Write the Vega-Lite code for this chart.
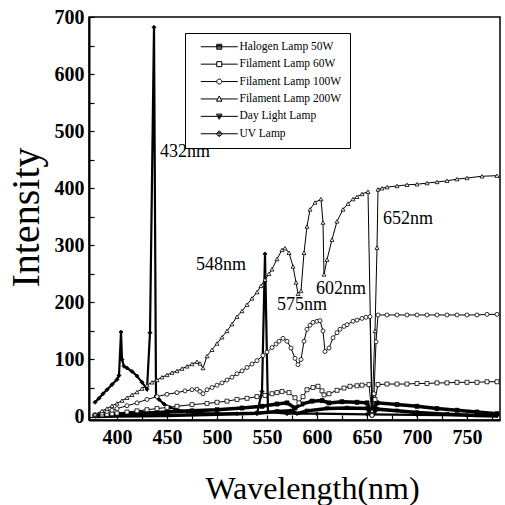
{
  "$schema": "https://vega.github.io/schema/vega-lite/v6.json",
  "autosize": "none",
  "width": 411,
  "height": 403,
  "padding": {"left": 89, "top": 17, "right": 5, "bottom": 85},
  "background": "white",
  "config": {
    "font": "Liberation Serif",
    "view": {"stroke": "black", "strokeWidth": 1.5},
    "axis": {
      "domainColor": "black", "domainWidth": 2, "tickColor": "black", "tickWidth": 1.2,
      "grid": false, "labelFont": "Liberation Serif", "labelFontWeight": "bold", "labelFontSize": 20,
      "labelColor": "black", "titleFont": "Liberation Serif", "titleFontWeight": "normal", "titleColor": "black"
    }
  },
  "datasets": {
    "spectra": [
      {"lamp":"Halogen Lamp 50W","wl":378,"i":2},{"lamp":"Halogen Lamp 50W","wl":400,"i":4},{"lamp":"Halogen Lamp 50W","wl":425,"i":6},{"lamp":"Halogen Lamp 50W","wl":450,"i":8},{"lamp":"Halogen Lamp 50W","wl":475,"i":10},{"lamp":"Halogen Lamp 50W","wl":500,"i":12},{"lamp":"Halogen Lamp 50W","wl":525,"i":15},{"lamp":"Halogen Lamp 50W","wl":545,"i":18},{"lamp":"Halogen Lamp 50W","wl":560,"i":22},{"lamp":"Halogen Lamp 50W","wl":570,"i":24},{"lamp":"Halogen Lamp 50W","wl":578,"i":15},{"lamp":"Halogen Lamp 50W","wl":585,"i":22},{"lamp":"Halogen Lamp 50W","wl":595,"i":27},{"lamp":"Halogen Lamp 50W","wl":605,"i":28},{"lamp":"Halogen Lamp 50W","wl":612,"i":24},{"lamp":"Halogen Lamp 50W","wl":625,"i":26},{"lamp":"Halogen Lamp 50W","wl":640,"i":25},{"lamp":"Halogen Lamp 50W","wl":650,"i":24},{"lamp":"Halogen Lamp 50W","wl":655,"i":5},{"lamp":"Halogen Lamp 50W","wl":660,"i":24},{"lamp":"Halogen Lamp 50W","wl":680,"i":21},{"lamp":"Halogen Lamp 50W","wl":700,"i":18},{"lamp":"Halogen Lamp 50W","wl":720,"i":14},{"lamp":"Halogen Lamp 50W","wl":740,"i":11},{"lamp":"Halogen Lamp 50W","wl":760,"i":8},{"lamp":"Halogen Lamp 50W","wl":780,"i":5},

      {"lamp":"Day Light Lamp","wl":378,"i":0},{"lamp":"Day Light Lamp","wl":400,"i":1},{"lamp":"Day Light Lamp","wl":450,"i":2},{"lamp":"Day Light Lamp","wl":500,"i":4},{"lamp":"Day Light Lamp","wl":540,"i":6},{"lamp":"Day Light Lamp","wl":560,"i":9},{"lamp":"Day Light Lamp","wl":575,"i":10},{"lamp":"Day Light Lamp","wl":580,"i":5},{"lamp":"Day Light Lamp","wl":590,"i":10},{"lamp":"Day Light Lamp","wl":610,"i":14},{"lamp":"Day Light Lamp","wl":630,"i":15},{"lamp":"Day Light Lamp","wl":650,"i":14},{"lamp":"Day Light Lamp","wl":655,"i":2},{"lamp":"Day Light Lamp","wl":660,"i":13},{"lamp":"Day Light Lamp","wl":680,"i":10},{"lamp":"Day Light Lamp","wl":700,"i":7},{"lamp":"Day Light Lamp","wl":730,"i":4},{"lamp":"Day Light Lamp","wl":760,"i":2},{"lamp":"Day Light Lamp","wl":780,"i":1},

      {"lamp":"UV Lamp","wl":378,"i":25},{"lamp":"UV Lamp","wl":382,"i":32},{"lamp":"UV Lamp","wl":386,"i":40},{"lamp":"UV Lamp","wl":390,"i":47},{"lamp":"UV Lamp","wl":395,"i":56},{"lamp":"UV Lamp","wl":400,"i":65},{"lamp":"UV Lamp","wl":402,"i":72},{"lamp":"UV Lamp","wl":404,"i":148},{"lamp":"UV Lamp","wl":405,"i":100},{"lamp":"UV Lamp","wl":407,"i":88},{"lamp":"UV Lamp","wl":410,"i":85},{"lamp":"UV Lamp","wl":415,"i":79},{"lamp":"UV Lamp","wl":420,"i":71},{"lamp":"UV Lamp","wl":425,"i":60},{"lamp":"UV Lamp","wl":430,"i":48},{"lamp":"UV Lamp","wl":433,"i":147},{"lamp":"UV Lamp","wl":437,"i":682},{"lamp":"UV Lamp","wl":439,"i":36},{"lamp":"UV Lamp","wl":442,"i":30},{"lamp":"UV Lamp","wl":447,"i":22},{"lamp":"UV Lamp","wl":453,"i":16},{"lamp":"UV Lamp","wl":460,"i":12},{"lamp":"UV Lamp","wl":470,"i":9},{"lamp":"UV Lamp","wl":485,"i":6},{"lamp":"UV Lamp","wl":500,"i":5},{"lamp":"UV Lamp","wl":520,"i":5},{"lamp":"UV Lamp","wl":540,"i":5},{"lamp":"UV Lamp","wl":545,"i":44},{"lamp":"UV Lamp","wl":548,"i":285},{"lamp":"UV Lamp","wl":551,"i":8},{"lamp":"UV Lamp","wl":570,"i":5},{"lamp":"UV Lamp","wl":600,"i":5},{"lamp":"UV Lamp","wl":650,"i":4},{"lamp":"UV Lamp","wl":700,"i":3},{"lamp":"UV Lamp","wl":750,"i":2},{"lamp":"UV Lamp","wl":780,"i":2},

      {"lamp":"Filament Lamp 60W","wl":378,"i":2},{"lamp":"Filament Lamp 60W","wl":385,"i":3},{"lamp":"Filament Lamp 60W","wl":390,"i":4},{"lamp":"Filament Lamp 60W","wl":395,"i":5},{"lamp":"Filament Lamp 60W","wl":400,"i":6},{"lamp":"Filament Lamp 60W","wl":410,"i":8},{"lamp":"Filament Lamp 60W","wl":420,"i":10},{"lamp":"Filament Lamp 60W","wl":430,"i":12},{"lamp":"Filament Lamp 60W","wl":440,"i":14},{"lamp":"Filament Lamp 60W","wl":450,"i":16},{"lamp":"Filament Lamp 60W","wl":460,"i":18},{"lamp":"Filament Lamp 60W","wl":475,"i":21},{"lamp":"Filament Lamp 60W","wl":490,"i":23},{"lamp":"Filament Lamp 60W","wl":500,"i":25},{"lamp":"Filament Lamp 60W","wl":510,"i":27},{"lamp":"Filament Lamp 60W","wl":520,"i":30},{"lamp":"Filament Lamp 60W","wl":530,"i":32},{"lamp":"Filament Lamp 60W","wl":540,"i":35},{"lamp":"Filament Lamp 60W","wl":548,"i":37},{"lamp":"Filament Lamp 60W","wl":555,"i":40},{"lamp":"Filament Lamp 60W","wl":560,"i":42},{"lamp":"Filament Lamp 60W","wl":565,"i":44},{"lamp":"Filament Lamp 60W","wl":572,"i":42},{"lamp":"Filament Lamp 60W","wl":578,"i":33},{"lamp":"Filament Lamp 60W","wl":582,"i":24},{"lamp":"Filament Lamp 60W","wl":586,"i":35},{"lamp":"Filament Lamp 60W","wl":590,"i":47},{"lamp":"Filament Lamp 60W","wl":596,"i":51},{"lamp":"Filament Lamp 60W","wl":601,"i":53},{"lamp":"Filament Lamp 60W","wl":605,"i":45},{"lamp":"Filament Lamp 60W","wl":607,"i":38},{"lamp":"Filament Lamp 60W","wl":612,"i":40},{"lamp":"Filament Lamp 60W","wl":620,"i":46},{"lamp":"Filament Lamp 60W","wl":627,"i":50},{"lamp":"Filament Lamp 60W","wl":633,"i":53},{"lamp":"Filament Lamp 60W","wl":640,"i":54},{"lamp":"Filament Lamp 60W","wl":645,"i":55},{"lamp":"Filament Lamp 60W","wl":652,"i":56},{"lamp":"Filament Lamp 60W","wl":655,"i":3},{"lamp":"Filament Lamp 60W","wl":658,"i":30},{"lamp":"Filament Lamp 60W","wl":661,"i":56},{"lamp":"Filament Lamp 60W","wl":670,"i":57},{"lamp":"Filament Lamp 60W","wl":680,"i":57},{"lamp":"Filament Lamp 60W","wl":690,"i":57},{"lamp":"Filament Lamp 60W","wl":700,"i":58},{"lamp":"Filament Lamp 60W","wl":710,"i":58},{"lamp":"Filament Lamp 60W","wl":720,"i":59},{"lamp":"Filament Lamp 60W","wl":730,"i":59},{"lamp":"Filament Lamp 60W","wl":740,"i":60},{"lamp":"Filament Lamp 60W","wl":750,"i":60},{"lamp":"Filament Lamp 60W","wl":760,"i":60},{"lamp":"Filament Lamp 60W","wl":770,"i":61},{"lamp":"Filament Lamp 60W","wl":780,"i":61},

      {"lamp":"Filament Lamp 100W","wl":378,"i":3},{"lamp":"Filament Lamp 100W","wl":385,"i":6},{"lamp":"Filament Lamp 100W","wl":390,"i":9},{"lamp":"Filament Lamp 100W","wl":395,"i":11},{"lamp":"Filament Lamp 100W","wl":400,"i":14},{"lamp":"Filament Lamp 100W","wl":410,"i":19},{"lamp":"Filament Lamp 100W","wl":420,"i":24},{"lamp":"Filament Lamp 100W","wl":430,"i":30},{"lamp":"Filament Lamp 100W","wl":440,"i":35},{"lamp":"Filament Lamp 100W","wl":450,"i":39},{"lamp":"Filament Lamp 100W","wl":460,"i":42},{"lamp":"Filament Lamp 100W","wl":468,"i":45},{"lamp":"Filament Lamp 100W","wl":475,"i":47},{"lamp":"Filament Lamp 100W","wl":480,"i":48},{"lamp":"Filament Lamp 100W","wl":483,"i":44},{"lamp":"Filament Lamp 100W","wl":486,"i":40},{"lamp":"Filament Lamp 100W","wl":490,"i":47},{"lamp":"Filament Lamp 100W","wl":495,"i":51},{"lamp":"Filament Lamp 100W","wl":500,"i":55},{"lamp":"Filament Lamp 100W","wl":505,"i":59},{"lamp":"Filament Lamp 100W","wl":510,"i":64},{"lamp":"Filament Lamp 100W","wl":515,"i":69},{"lamp":"Filament Lamp 100W","wl":520,"i":75},{"lamp":"Filament Lamp 100W","wl":525,"i":80},{"lamp":"Filament Lamp 100W","wl":530,"i":86},{"lamp":"Filament Lamp 100W","wl":535,"i":92},{"lamp":"Filament Lamp 100W","wl":540,"i":98},{"lamp":"Filament Lamp 100W","wl":546,"i":107},{"lamp":"Filament Lamp 100W","wl":550,"i":113},{"lamp":"Filament Lamp 100W","wl":555,"i":121},{"lamp":"Filament Lamp 100W","wl":559,"i":127},{"lamp":"Filament Lamp 100W","wl":562,"i":132},{"lamp":"Filament Lamp 100W","wl":566,"i":137},{"lamp":"Filament Lamp 100W","wl":570,"i":132},{"lamp":"Filament Lamp 100W","wl":574,"i":120},{"lamp":"Filament Lamp 100W","wl":578,"i":102},{"lamp":"Filament Lamp 100W","wl":581,"i":91},{"lamp":"Filament Lamp 100W","wl":584,"i":100},{"lamp":"Filament Lamp 100W","wl":587,"i":132},{"lamp":"Filament Lamp 100W","wl":590,"i":153},{"lamp":"Filament Lamp 100W","wl":593,"i":160},{"lamp":"Filament Lamp 100W","wl":596,"i":165},{"lamp":"Filament Lamp 100W","wl":600,"i":167},{"lamp":"Filament Lamp 100W","wl":603,"i":168},{"lamp":"Filament Lamp 100W","wl":606,"i":150},{"lamp":"Filament Lamp 100W","wl":608,"i":114},{"lamp":"Filament Lamp 100W","wl":612,"i":120},{"lamp":"Filament Lamp 100W","wl":616,"i":138},{"lamp":"Filament Lamp 100W","wl":620,"i":147},{"lamp":"Filament Lamp 100W","wl":623,"i":153},{"lamp":"Filament Lamp 100W","wl":627,"i":158},{"lamp":"Filament Lamp 100W","wl":630,"i":161},{"lamp":"Filament Lamp 100W","wl":636,"i":167},{"lamp":"Filament Lamp 100W","wl":640,"i":169},{"lamp":"Filament Lamp 100W","wl":645,"i":172},{"lamp":"Filament Lamp 100W","wl":649,"i":174},{"lamp":"Filament Lamp 100W","wl":653,"i":175},{"lamp":"Filament Lamp 100W","wl":655,"i":2},{"lamp":"Filament Lamp 100W","wl":657,"i":40},{"lamp":"Filament Lamp 100W","wl":659,"i":131},{"lamp":"Filament Lamp 100W","wl":661,"i":178},{"lamp":"Filament Lamp 100W","wl":670,"i":178},{"lamp":"Filament Lamp 100W","wl":680,"i":178},{"lamp":"Filament Lamp 100W","wl":690,"i":178},{"lamp":"Filament Lamp 100W","wl":700,"i":178},{"lamp":"Filament Lamp 100W","wl":710,"i":178},{"lamp":"Filament Lamp 100W","wl":720,"i":178},{"lamp":"Filament Lamp 100W","wl":730,"i":178},{"lamp":"Filament Lamp 100W","wl":740,"i":178},{"lamp":"Filament Lamp 100W","wl":750,"i":178},{"lamp":"Filament Lamp 100W","wl":760,"i":178},{"lamp":"Filament Lamp 100W","wl":770,"i":179},{"lamp":"Filament Lamp 100W","wl":780,"i":179},

      {"lamp":"Filament Lamp 200W","wl":378,"i":4},{"lamp":"Filament Lamp 200W","wl":385,"i":10},{"lamp":"Filament Lamp 200W","wl":390,"i":14},{"lamp":"Filament Lamp 200W","wl":395,"i":19},{"lamp":"Filament Lamp 200W","wl":400,"i":23},{"lamp":"Filament Lamp 200W","wl":405,"i":28},{"lamp":"Filament Lamp 200W","wl":410,"i":33},{"lamp":"Filament Lamp 200W","wl":415,"i":38},{"lamp":"Filament Lamp 200W","wl":420,"i":43},{"lamp":"Filament Lamp 200W","wl":425,"i":49},{"lamp":"Filament Lamp 200W","wl":430,"i":55},{"lamp":"Filament Lamp 200W","wl":435,"i":60},{"lamp":"Filament Lamp 200W","wl":440,"i":64},{"lamp":"Filament Lamp 200W","wl":445,"i":69},{"lamp":"Filament Lamp 200W","wl":450,"i":73},{"lamp":"Filament Lamp 200W","wl":455,"i":77},{"lamp":"Filament Lamp 200W","wl":460,"i":80},{"lamp":"Filament Lamp 200W","wl":465,"i":84},{"lamp":"Filament Lamp 200W","wl":470,"i":88},{"lamp":"Filament Lamp 200W","wl":475,"i":92},{"lamp":"Filament Lamp 200W","wl":480,"i":96},{"lamp":"Filament Lamp 200W","wl":483,"i":93},{"lamp":"Filament Lamp 200W","wl":486,"i":85},{"lamp":"Filament Lamp 200W","wl":490,"i":106},{"lamp":"Filament Lamp 200W","wl":495,"i":117},{"lamp":"Filament Lamp 200W","wl":500,"i":128},{"lamp":"Filament Lamp 200W","wl":505,"i":139},{"lamp":"Filament Lamp 200W","wl":510,"i":150},{"lamp":"Filament Lamp 200W","wl":515,"i":162},{"lamp":"Filament Lamp 200W","wl":520,"i":175},{"lamp":"Filament Lamp 200W","wl":525,"i":185},{"lamp":"Filament Lamp 200W","wl":530,"i":196},{"lamp":"Filament Lamp 200W","wl":535,"i":207},{"lamp":"Filament Lamp 200W","wl":540,"i":218},{"lamp":"Filament Lamp 200W","wl":544,"i":229},{"lamp":"Filament Lamp 200W","wl":548,"i":240},{"lamp":"Filament Lamp 200W","wl":552,"i":250},{"lamp":"Filament Lamp 200W","wl":555,"i":258},{"lamp":"Filament Lamp 200W","wl":560,"i":276},{"lamp":"Filament Lamp 200W","wl":565,"i":292},{"lamp":"Filament Lamp 200W","wl":568,"i":295},{"lamp":"Filament Lamp 200W","wl":572,"i":287},{"lamp":"Filament Lamp 200W","wl":576,"i":263},{"lamp":"Filament Lamp 200W","wl":579,"i":235},{"lamp":"Filament Lamp 200W","wl":581,"i":215},{"lamp":"Filament Lamp 200W","wl":584,"i":220},{"lamp":"Filament Lamp 200W","wl":587,"i":287},{"lamp":"Filament Lamp 200W","wl":590,"i":333},{"lamp":"Filament Lamp 200W","wl":593,"i":363},{"lamp":"Filament Lamp 200W","wl":598,"i":375},{"lamp":"Filament Lamp 200W","wl":604,"i":381},{"lamp":"Filament Lamp 200W","wl":606,"i":340},{"lamp":"Filament Lamp 200W","wl":607,"i":249},{"lamp":"Filament Lamp 200W","wl":610,"i":275},{"lamp":"Filament Lamp 200W","wl":615,"i":310},{"lamp":"Filament Lamp 200W","wl":620,"i":342},{"lamp":"Filament Lamp 200W","wl":626,"i":363},{"lamp":"Filament Lamp 200W","wl":631,"i":373},{"lamp":"Filament Lamp 200W","wl":636,"i":381},{"lamp":"Filament Lamp 200W","wl":640,"i":385},{"lamp":"Filament Lamp 200W","wl":645,"i":390},{"lamp":"Filament Lamp 200W","wl":651,"i":394},{"lamp":"Filament Lamp 200W","wl":655,"i":10},{"lamp":"Filament Lamp 200W","wl":658,"i":150},{"lamp":"Filament Lamp 200W","wl":660,"i":296},{"lamp":"Filament Lamp 200W","wl":661,"i":398},{"lamp":"Filament Lamp 200W","wl":665,"i":400},{"lamp":"Filament Lamp 200W","wl":670,"i":402},{"lamp":"Filament Lamp 200W","wl":680,"i":404},{"lamp":"Filament Lamp 200W","wl":690,"i":406},{"lamp":"Filament Lamp 200W","wl":700,"i":407},{"lamp":"Filament Lamp 200W","wl":710,"i":409},{"lamp":"Filament Lamp 200W","wl":720,"i":411},{"lamp":"Filament Lamp 200W","wl":730,"i":413},{"lamp":"Filament Lamp 200W","wl":740,"i":416},{"lamp":"Filament Lamp 200W","wl":750,"i":418},{"lamp":"Filament Lamp 200W","wl":765,"i":421},{"lamp":"Filament Lamp 200W","wl":780,"i":422}
    ],
    "notes": [
      {"wl":443,"i":463,"label":"432nm"},
      {"wl":479,"i":265,"label":"548nm"},
      {"wl":560,"i":196,"label":"575nm"},
      {"wl":599,"i":223,"label":"602nm"},
      {"wl":666,"i":346,"label":"652nm"}
    ]
  },
  "data": {"name": "spectra"},
  "encoding": {
    "x": {"field": "wl", "type": "quantitative", "scale": {"domain": [372, 783], "nice": false, "zero": false},
      "axis": {"title": "Wavelength(nm)", "titleFontSize": 32, "titleBaseline": "alphabetic", "titleX": 223, "titleY": 78,
        "values": [400,425,450,475,500,525,550,575,600,625,650,675,700,725,750,775],
        "labelExpr": "datum.value % 50 === 0 ? datum.label : ''", "tickSize": -5, "labelPadding": 12}},
    "y": {"field": "i", "type": "quantitative", "scale": {"domain": [-6, 700], "nice": false, "zero": false},
      "axis": {"title": "Intensity", "titleFontSize": 40, "titleBaseline": "alphabetic", "titleAngle": -90, "titleAlign": "center", "titleX": -51, "titleY": 200,
        "values": [0,50,100,150,200,250,300,350,400,450,500,550,600,650,700],
        "labelExpr": "datum.value % 100 === 0 ? datum.label : ''", "tickSize": -5, "labelPadding": 10}}
  },
  "layer": [
    {
      "transform": [{"filter": {"field": "lamp", "oneOf": ["Filament Lamp 60W","Filament Lamp 100W","Filament Lamp 200W"]}}],
      "mark": {"type": "line", "color": "black", "strokeWidth": 1},
      "encoding": {"detail": {"field": "lamp"}}
    },
    {
      "transform": [{"filter": {"field": "lamp", "oneOf": ["Halogen Lamp 50W","Day Light Lamp"]}}],
      "mark": {"type": "line", "color": "black", "strokeWidth": 3.5},
      "encoding": {"detail": {"field": "lamp"}}
    },
    {
      "transform": [{"filter": {"field": "lamp", "equal": "UV Lamp"}}],
      "mark": {"type": "line", "color": "black", "strokeWidth": 2.2},
      "encoding": {"detail": {"field": "lamp"}}
    },
    {
      "mark": {"type": "point", "filled": true, "stroke": "black", "strokeWidth": 0.8, "opacity": 1, "size": 16},
      "encoding": {
        "shape": {"field": "lamp", "type": "nominal", "legend": null,
          "scale": {"domain": ["Halogen Lamp 50W","Filament Lamp 60W","Filament Lamp 100W","Filament Lamp 200W","Day Light Lamp","UV Lamp"], "range": ["square","square","circle","triangle-up","triangle-down","diamond"]}},
        "fill": {"field": "lamp", "type": "nominal", "legend": null,
          "scale": {"domain": ["Halogen Lamp 50W","Filament Lamp 60W","Filament Lamp 100W","Filament Lamp 200W","Day Light Lamp","UV Lamp"], "range": ["black","white","white","white","black","black"]}}
      }
    },
    {
      "mark": {"type": "point", "filled": false, "stroke": "black", "strokeWidth": 1, "opacity": 0},
      "encoding": {
        "shape": {"field": "lamp", "type": "nominal",
          "scale": {"domain": ["Halogen Lamp 50W","Filament Lamp 60W","Filament Lamp 100W","Filament Lamp 200W","Day Light Lamp","UV Lamp"],
            "range": [
              "M0.4,0H7.8M3.6,-0.5H4.6V0.5H3.6ZM3.6,-0.25H4.6M3.6,0.25H4.6",
              "M0.4,0H3.6M4.6,0H7.8M3.6,-0.5H4.6V0.5H3.6Z",
              "M0.4,0H3.6M4.6,0H7.8M4.6,0A0.5,0.5,0,1,1,3.6,0A0.5,0.5,0,1,1,4.6,0Z",
              "M0.4,0H3.8M4.4,0H7.8M4.1,-0.6L4.65,0.45H3.55Z",
              "M0.4,0H7.8M3.55,-0.45H4.65L4.1,0.6ZM3.75,-0.2H4.45M3.9,0.2H4.3",
              "M0.4,0H7.8M4.1,-0.6L4.7,0L4.1,0.6L3.5,0ZM3.8,-0.3H4.4M3.8,0.3H4.4"
            ]},
          "legend": {
            "title": null, "orient": "none", "legendX": 96, "legendY": 16,
            "strokeColor": "black", "fillColor": "white", "padding": 8, "rowPadding": 4.4,
            "labelFont": "Liberation Serif", "labelFontSize": 11.5, "labelColor": "black", "labelOffset": 35,
            "symbolSize": 100, "symbolStrokeColor": "black", "symbolStrokeWidth": 1, "symbolOpacity": 1, "symbolFillColor": "transparent"
          }}
      }
    },
    {
      "data": {"name": "notes"},
      "mark": {"type": "text", "align": "left", "baseline": "middle", "fontSize": 18, "font": "Liberation Serif", "color": "black"},
      "encoding": {"text": {"field": "label"}}
    }
  ],
  "resolve": {"scale": {"shape": "independent"}}
}
